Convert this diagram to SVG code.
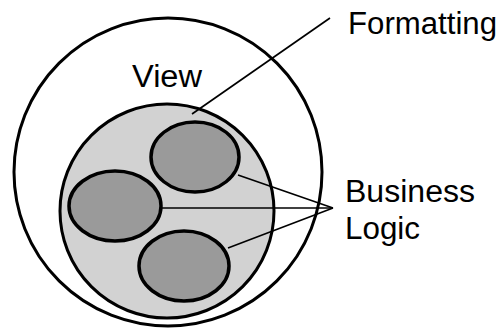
<svg xmlns="http://www.w3.org/2000/svg" width="503" height="329" viewBox="0 0 503 329">
<style>
.outer{fill:#fff;stroke:#000;stroke-width:3}
.inner{fill:#d2d2d2;stroke:#000;stroke-width:3}
.blob{fill:#9a9a9a;stroke:#000;stroke-width:3.5}
.conn{stroke:#000;stroke-width:1.6;fill:none}
text{font-family:"Liberation Sans",Arial,sans-serif;font-size:31px;fill:#000}
</style>
<rect width="503" height="329" fill="#fff"/>
<g id="view-outer"><circle class="outer" cx="168" cy="172" r="154"/></g>
<g id="view-inner"><circle class="inner" cx="167" cy="211" r="107"/></g>
<g id="logic-top"><ellipse class="blob" cx="195" cy="157" rx="44" ry="35"/></g>
<g id="logic-left"><ellipse class="blob" cx="115" cy="206" rx="46" ry="35"/></g>
<g id="logic-bottom"><ellipse class="blob" cx="184" cy="266" rx="45" ry="35"/></g>
<g id="connectors">
<line class="conn" x1="330" y1="18" x2="192" y2="114"/>
<line class="conn" x1="238" y1="175" x2="333" y2="208"/>
<line class="conn" x1="161" y1="208" x2="333" y2="208"/>
<line class="conn" x1="228" y1="248" x2="333" y2="208"/>
</g>
<g id="labels">
<text x="132" y="87" font-size="32" textLength="70" lengthAdjust="spacingAndGlyphs">View</text>
<text x="348" y="34" textLength="149" lengthAdjust="spacingAndGlyphs">Formatting</text>
<text x="345" y="202" font-size="29" textLength="130" lengthAdjust="spacingAndGlyphs">Business</text>
<text x="345" y="239" font-size="29" textLength="75" lengthAdjust="spacingAndGlyphs">Logic</text>
</g>
</svg>
